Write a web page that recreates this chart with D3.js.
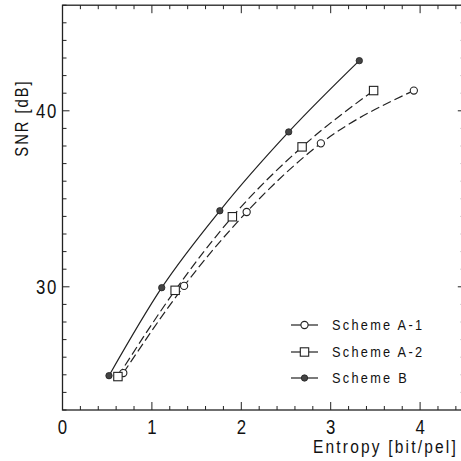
<!DOCTYPE html>
<html><head><meta charset="utf-8">
<script src="https://cdn.jsdelivr.net/npm/d3@7"></script>
<style>
body{margin:0;background:#fff;}
text{font-family:"Liberation Sans",Arial,sans-serif;fill:#111;}
</style></head>
<body>
<svg id="chart" width="461" height="461"></svg>
<script>
const seriesNames = ["Scheme A-1", "Scheme A-2", "Scheme B"];
const entropyA1 = [0.68, 1.36, 2.06, 2.89, 3.93];
const snrA1     = [25.1, 30.05, 34.25, 38.15, 41.15];
const entropyA2 = [0.62, 1.26, 1.90, 2.68, 3.48];
const snrA2     = [24.9, 29.8, 33.98, 37.95, 41.15];
const entropyB  = [0.52, 1.11, 1.76, 2.53, 3.32];
const snrB      = [24.95, 29.95, 34.32, 38.8, 42.85];
const xTicks = [0, 1, 2, 3, 4];
const yTicks = [30, 40];

const svg = d3.select("#chart");
const x = d3.scaleLinear().domain([0, 4.5]).range([62.5, 464.8]);
const y = d3.scaleLinear().domain([23, 46]).range([410, 5.2]);
const NARROW = 0.84;

const g = svg.append("g");
g.append("rect").attr("x", x(0)).attr("y", y(46)).attr("width", x(4.5) - x(0)).attr("height", y(23) - y(46))
  .attr("fill", "none").attr("stroke", "#222").attr("stroke-width", 1.3);

const xMinor = d3.range(0, 4.5001, 0.2).map(v => +v.toFixed(1));
const yMinor = d3.range(23, 46.001, 1);
const isMajX = v => Math.abs(v - Math.round(v)) < 1e-6;
const isMajY = v => v % 10 === 0;
xMinor.forEach(v => {
  const L = isMajX(v) ? 8 : 4;
  g.append("line").attr("x1", x(v)).attr("x2", x(v)).attr("y1", y(23)).attr("y2", y(23) - L).attr("stroke", "#222");
  g.append("line").attr("x1", x(v)).attr("x2", x(v)).attr("y1", y(46)).attr("y2", y(46) + L).attr("stroke", "#222");
});
yMinor.forEach(v => {
  const L = isMajY(v) ? 7 : 4;
  g.append("line").attr("x1", x(0)).attr("x2", x(0) + L).attr("y1", y(v)).attr("y2", y(v)).attr("stroke", "#222");
  g.append("line").attr("x1", x(4.5)).attr("x2", x(4.5) - L).attr("y1", y(v)).attr("y2", y(v)).attr("stroke", "#222");
});

// tick labels (narrowed)
g.selectAll(".xl").data(xTicks).enter().append("text")
  .attr("transform", d => `translate(${x(d)},434) scale(${NARROW},1)`).attr("text-anchor", "middle")
  .attr("font-size", 20).text(d => d);
g.selectAll(".yl").data(yTicks).enter().append("text")
  .attr("transform", d => `translate(58,${y(d) + 7.5}) scale(${NARROW},1)`).attr("text-anchor", "end")
  .attr("font-size", 20).attr("letter-spacing", 2).text(d => d);

// axis titles
g.append("text").attr("transform", `translate(458,453) scale(${NARROW},1)`).attr("text-anchor", "end")
  .attr("font-size", 18.5).attr("letter-spacing", 2.6).text("Entropy [bit/pel]");
g.append("text").attr("transform", `translate(28,118) rotate(-90) scale(${NARROW},1)`).attr("text-anchor", "middle")
  .attr("font-size", 17.5).attr("letter-spacing", 2.4).text("SNR [dB]");

const series = [
  {name: seriesNames[0], xs: entropyA1, ys: snrA1, dash: "9,4", marker: "circle"},
  {name: seriesNames[1], xs: entropyA2, ys: snrA2, dash: "9,4", marker: "square"},
  {name: seriesNames[2], xs: entropyB,  ys: snrB,  dash: null,  marker: "dot"}
];
const line = d3.line().x(d => x(d[0])).y(d => y(d[1])).curve(d3.curveMonotoneX);

function drawMarker(sel, type, cx, cy) {
  if (type === "circle") sel.append("circle").attr("cx", cx).attr("cy", cy).attr("r", 3.6).attr("fill", "#fff").attr("stroke", "#222").attr("stroke-width", 1.1);
  else if (type === "square") sel.append("rect").attr("x", cx - 4.2).attr("y", cy - 4.2).attr("width", 8.4).attr("height", 8.4).attr("fill", "#fff").attr("stroke", "#222").attr("stroke-width", 1.1);
  else sel.append("circle").attr("cx", cx).attr("cy", cy).attr("r", 3.2).attr("fill", "#444").attr("stroke", "#222").attr("stroke-width", 0.8);
}

series.forEach(s => {
  const pts = s.xs.map((v, i) => [v, s.ys[i]]);
  const p = g.append("path").attr("d", line(pts)).attr("fill", "none").attr("stroke", "#222").attr("stroke-width", 1.2);
  if (s.dash) p.attr("stroke-dasharray", s.dash);
});
series.forEach(s => {
  s.xs.forEach((v, i) => drawMarker(g, s.marker, x(v), y(s.ys[i])));
});

const legY = [325, 352, 378];
series.forEach((s, i) => {
  g.append("line").attr("x1", 291).attr("x2", 318).attr("y1", legY[i]).attr("y2", legY[i]).attr("stroke", "#222").attr("stroke-width", 1.2);
  drawMarker(g, s.marker, 304.5, legY[i]);
  g.append("text").attr("transform", `translate(332,${legY[i] + 5}) scale(0.88,1)`).attr("font-size", 14.5).attr("letter-spacing", 2.6).text(s.name);
});
</script>
</body></html>
